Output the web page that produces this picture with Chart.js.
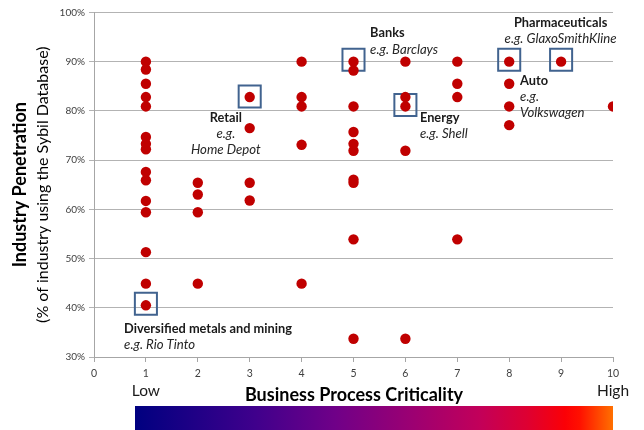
<!DOCTYPE html>
<html>
<head>
<meta charset="utf-8">
<script src="https://cdn.jsdelivr.net/npm/chart.js@4"></script>
<style>
html,body{margin:0;padding:0;background:#fff;}
#c{display:block;}
</style>
</head>
<body>
<canvas id="c" width="644" height="430"></canvas>
<script>
// Business Process Criticality (x) and Industry Penetration % (y) per industry point
const criticality = [
  1,1,1,1,1,1,1,1,1,1,1,1,1,1,1,
  2,2,2,2,
  3,3,3,3,
  4,4,4,4,4,
  5,5,5,5,5,5,5,5,5,5,
  6,6,6,6,6,
  7,7,7,7,
  8,8,8,8,
  9,
  10
];
const penetration = [
  90,88.4,85.5,82.8,80.9,74.7,73.3,72.2,67.6,65.9,61.7,59.4,51.3,44.9,40.5,
  65.4,63.0,59.4,44.9,
  82.8,76.5,65.4,61.8,
  90,82.8,80.9,73.1,44.9,
  90,88.2,80.9,75.7,73.3,71.9,66.0,65.4,53.9,33.7,
  90,82.8,80.9,71.9,33.7,
  90,85.5,82.8,53.9,
  90,85.5,80.9,77.1,
  90,
  80.9
];
// Highlighted example companies (box centres)
const highlightX = [1, 3, 5, 6, 8, 9];
const highlightY = [40.8, 82.9, 90.4, 81.2, 90.4, 90.4];

// Annotation labels (anchored in data units)
const labelX = [2.54, 5.32, 6.28, 8.99, 8.21, 0.58];
const labelY = [78.6, 95.75, 78.6, 97.8, 86.05, 35.65];
const labelAlign = ['center','left','left','center','left','left'];
const labelBold = ['Retail','Banks','Energy','Pharmaceuticals','Auto','Diversified metals and mining'];
const labelItalic = [['e.g.','Home Depot'],['e.g. Barclays'],['e.g. Shell'],['e.g. GlaxoSmithKline'],['e.g.','Volkswagen'],['e.g. Rio Tinto']];

const yTicks = [30,40,50,60,70,80,90,100];
const xTicks = [0,1,2,3,4,5,6,7,8,9,10];

const FONT = 'Lato, "Open Sans", "DejaVu Sans", sans-serif';

const points = criticality.map((x,i)=>({x:x, y:penetration[i]}));
const boxes = highlightX.map((x,i)=>({x:x, y:highlightY[i]}));

const decor = {
  id:'decor',
  afterDatasetsDraw(chart){
    const c = chart.ctx, xs = chart.scales.x, ys = chart.scales.y;
    c.save();
    for(let i=0;i<labelBold.length;i++){
      const px = xs.getPixelForValue(labelX[i]);
      const py = ys.getPixelForValue(labelY[i]);
      c.textAlign = labelAlign[i];
      c.textBaseline = 'middle';
      c.fillStyle = '#1a1a1a';
      c.font = 'bold 12.8px ' + FONT;
      c.fillText(labelBold[i], px, py);
      c.font = 'italic 13.2px ' + FONT;
      c.fillStyle = '#262626';
      labelItalic[i].forEach((t,k)=>{ c.fillText(t, px, py + 16*(k+1)); });
    }
    c.restore();
  },
  afterDraw(chart){
    const c = chart.ctx, xs = chart.scales.x, a = chart.chartArea;
    c.save();
    const cy = (a.top + a.bottom)/2;
    c.translate(20, cy);
    c.rotate(-Math.PI/2);
    c.textAlign='center'; c.textBaseline='middle';
    c.fillStyle='#000';
    c.font='bold 18px '+FONT;
    c.fillText('Industry Penetration', 0, 0);
    c.font='16px '+FONT;
    c.fillText('(% of industry using the Sybil Database)', 0, 23);
    c.restore();
    c.save();
    c.textAlign='center'; c.textBaseline='middle'; c.fillStyle='#000';
    c.font='bold 18px '+FONT;
    c.fillText('Business Process Criticality', 354, 395);
    c.font='15.5px '+FONT;
    c.fillStyle='#1a1a1a';
    c.fillText('Low', xs.getPixelForValue(1), 391);
    c.fillText('High', xs.getPixelForValue(10), 391);
    const x0 = xs.getPixelForValue(0.79), x1 = xs.getPixelForValue(10);
    const g = c.createLinearGradient(x0,0,x1,0);
    g.addColorStop(0,'#000080');
    g.addColorStop(0.25,'#3f008c');
    g.addColorStop(0.42,'#700088');
    g.addColorStop(0.58,'#9c0072');
    g.addColorStop(0.72,'#c2005a');
    g.addColorStop(0.82,'#de0032');
    g.addColorStop(0.9,'#fb0006');
    g.addColorStop(0.93,'#ff1000');
    g.addColorStop(1,'#ff7000');
    c.fillStyle=g;
    c.fillRect(x0, 406, x1-x0, 24);
    c.restore();
  }
};

new Chart(document.getElementById('c'), {
  type:'scatter',
  data:{datasets:[
    {data:points, pointRadius:5.2, pointHoverRadius:5.2, backgroundColor:'#c00000', borderColor:'#c00000', borderWidth:0},
    {data:boxes, pointStyle:'rect', pointRadius:15.6, pointHoverRadius:15.6, backgroundColor:'rgba(0,0,0,0)', borderColor:'#41638f', borderWidth:2}
  ]},
  options:{
    responsive:false, animation:false,
    layout:{autoPadding:false, padding:{left:0,right:31,top:12.4,bottom:0}},
    plugins:{legend:{display:false}, tooltip:{enabled:false}},
    scales:{
      x:{type:'linear', min:0, max:10,
        afterBuildTicks(s){ s.ticks = xTicks.map(v=>({value:v})); },
        ticks:{color:'#404040', font:{size:10.5, family:FONT}, padding:5},
        grid:{drawOnChartArea:false, drawTicks:true, tickLength:5, color:'#a6a6a6'},
        border:{color:'#a6a6a6'},
        afterFit(s){ s.height = 73; s.paddingLeft = 0; s.paddingRight = 0; }
      },
      y:{type:'linear', min:30, max:100,
        afterBuildTicks(s){ s.ticks = yTicks.map(v=>({value:v})); },
        ticks:{color:'#404040', font:{size:10, family:FONT}, padding:4, callback:v=>v+'%'},
        grid:{color:'#b3b3b3', tickLength:5},
        border:{color:'#a6a6a6'},
        afterFit(s){ s.width = 94; s.paddingTop = 0; s.paddingBottom = 0; }
      }
    }
  },
  plugins:[decor]
});
</script>
</body>
</html>
